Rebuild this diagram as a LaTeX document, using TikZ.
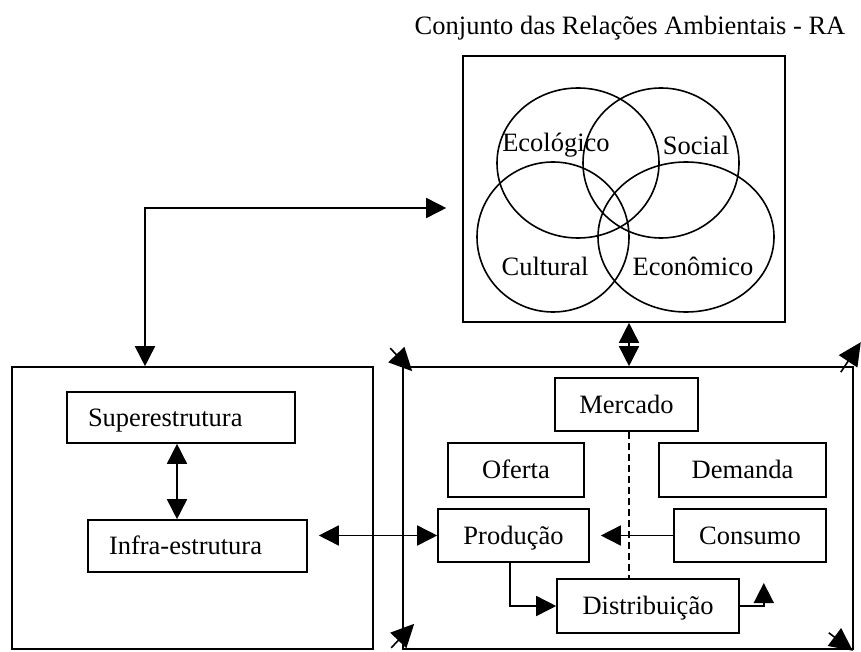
\documentclass[tikz,border=0pt]{standalone}
\usepackage{fontspec}
\setmainfont{Liberation Serif}
\usetikzlibrary{arrows.meta}

\begin{document}
\begin{tikzpicture}[x=1pt, y=-1pt, line width=1.6pt,
  font=\fontsize{26.5}{30}\selectfont,
  >={Triangle[length=20pt, width=20pt]},
  corner/.style={-{Triangle[length=23pt, width=22pt]}},
  box/.style={draw, inner sep=0pt, text height=22pt, text depth=5pt},
  lbox/.style={box, align=left, inner xsep=21pt}]
  \useasboundingbox (0, 0) rectangle (861, 652);

  \node (t) at (630, 28) {Conjunto das Rela\c{c}\~oes Ambientais - RA};
  \node [draw, minimum width=322pt, minimum height=266pt] (ra) at (624, 189) {};
  \draw (578, 163) ellipse [x radius=81, y radius=75];
  \draw (661, 163) ellipse [x radius=78, y radius=75];
  \draw (553, 237) ellipse [x radius=76, y radius=75];
  \draw (686, 237) ellipse [x radius=88, y radius=75];
  \node (e1) at (556, 145) {Ecol\'ogico};
  \node (e2) at (696, 145) {Social};
  \node (e3) at (545, 266) {Cultural};
  \node (e4) at (693, 266) {Econ\^omico};

  \node [draw, minimum width=361pt, minimum height=282pt] (l) at (192.5, 508) {};
  \node [draw, minimum width=450pt, minimum height=282pt] (r) at (628, 508) {};

  \node [lbox, text width=186pt, minimum height=51pt] (s) at (181, 417.5) {Superestrutura};
  \node [lbox, text width=177pt, minimum height=52pt] (i) at (197.5, 546) {Infra-estrutura};

  \node [box, minimum width=143pt, minimum height=53pt] (m) at (626.5, 404.5) {Mercado};
  \node [box, minimum width=136pt, minimum height=54pt] (o) at (516, 470) {Oferta};
  \node [box, minimum width=167pt, minimum height=54pt] (d) at (742.5, 470) {Demanda};
  \node [box, minimum width=151pt, minimum height=53pt] (p) at (513.5, 535.5) {Produ\c{c}\~ao};
  \node [box, minimum width=152pt, minimum height=53pt] (c) at (750, 535.5) {Consumo};
  \node [box, minimum width=182pt, minimum height=54pt] (x) at (648, 606) {Distribui\c{c}\~ao};

  \coordinate (k) at (177, 0);
  \coordinate (j) at (145, 208);
  \coordinate (h) at (629, 0);

  \draw [<->] (s.south -| k) to (i.north -| k);
  \draw [<->, shorten <=11pt] (i.east |- p.west) to (p.west);
  \draw [<->, shorten >=16pt] (l.north -| j) |- (ra.west |- j);
  \draw [<->] (ra.south -| h) to (r.north -| h);
  \draw [->, shorten >=11pt] (c.west) to (p.east |- c.west);
  \draw [->] (p.south -| 510, 0) |- (x.west);
  \draw [->] (x.east) -| ++(24, -23);
  \draw [dashed, dash pattern=on 7pt off 4pt] (m.south -| h) to (x.north -| h);

  \draw [corner] ([shift={(-12, -18)}]r.north west) to ([shift={(10, 5)}]r.north west);
  \draw [corner] ([shift={(-13, 6)}]r.north east) to ([shift={(7, -24)}]r.north east);
  \draw [corner] ([shift={(-11, -2)}]r.south west) to ([shift={(12, -26)}]r.south west);
  \draw [corner] ([shift={(-25, -17)}]r.south east) to ([shift={(-1, 1)}]r.south east);
\end{tikzpicture}
\end{document}
